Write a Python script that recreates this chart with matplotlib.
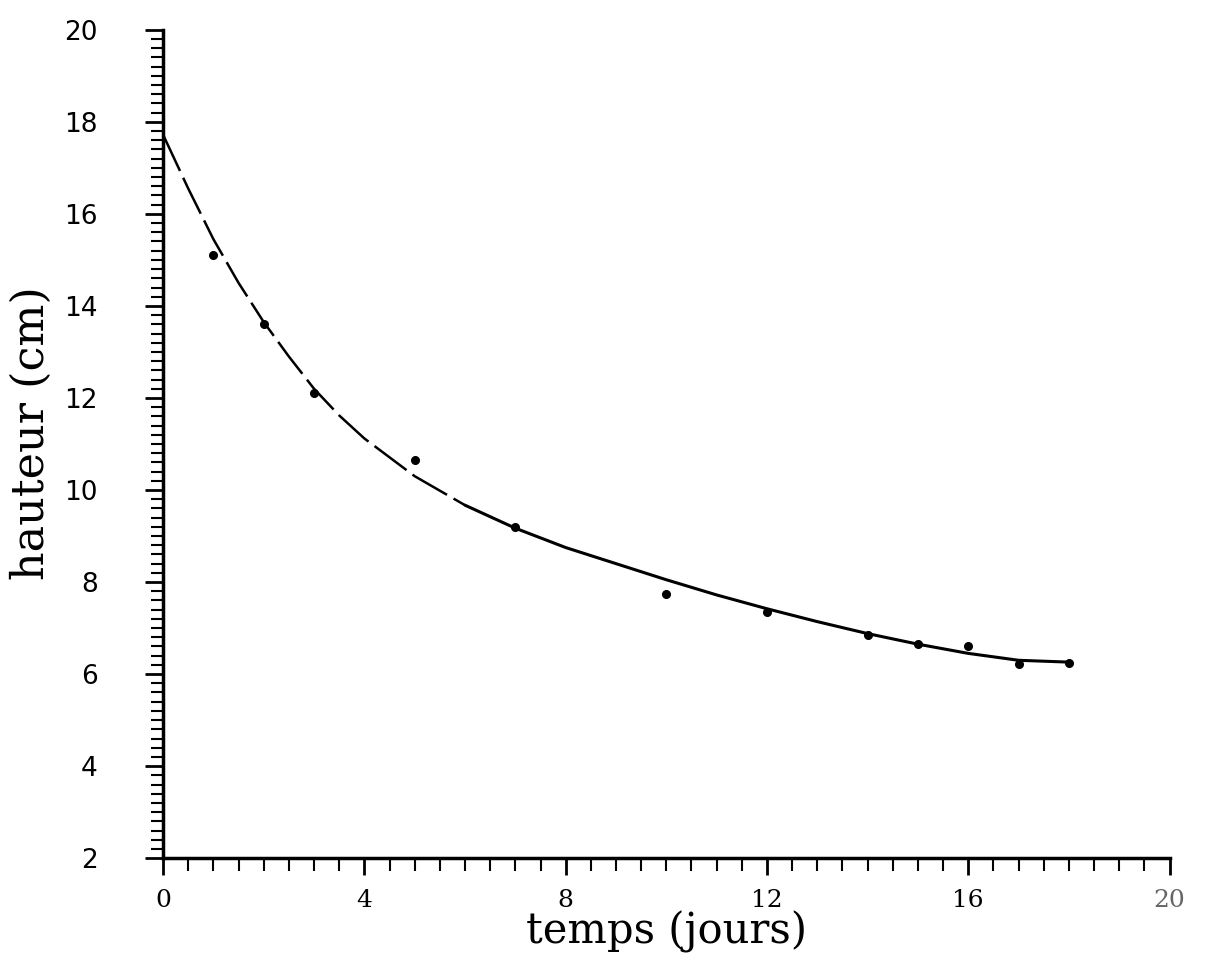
import matplotlib
matplotlib.use("Agg")
import matplotlib.pyplot as plt
from matplotlib.ticker import MultipleLocator

# measured points (temps en jours, hauteur en cm)
jours = [1, 2, 3, 5, 7, 10, 12, 14, 15, 16, 17, 18]
hauteur = [15.1, 13.6, 12.1, 10.65, 9.2, 7.75, 7.35, 6.85, 6.65, 6.6, 6.22, 6.25]

# fitted curve
courbe_x = [0, 0.5, 1, 1.5, 2, 2.5, 3, 3.5, 4, 5, 6,
            7, 8, 9, 10, 11, 12, 13, 14, 15, 16, 17, 18]
courbe_y = [17.72, 16.55, 15.45, 14.5, 13.65, 12.9, 12.2, 11.62, 11.12, 10.3, 9.67,
            9.17, 8.75, 8.4, 8.05, 7.72, 7.42, 7.14, 6.88, 6.65, 6.45, 6.3, 6.26]

x_ticks = [0, 4, 8, 12, 16, 20]
y_ticks = [2, 4, 6, 8, 10, 12, 14, 16, 18, 20]

fig = plt.figure(figsize=(12.17, 9.61), dpi=100)
ax = fig.add_axes([0.134, 0.107, 0.827, 0.862])

# upper part of the curve is broken (dashed), rest is solid
n_dash = 11
ax.plot(courbe_x[:n_dash], courbe_y[:n_dash], color="black", lw=1.8,
        linestyle=(0, (16, 3)))
ax.plot(courbe_x[n_dash - 1:], courbe_y[n_dash - 1:], color="black", lw=2.2,
        solid_capstyle="round", solid_joinstyle="round")
ax.plot(jours, hauteur, "o", color="black", markersize=5.5)

ax.set_xlim(0, 20)
ax.set_ylim(2, 20)
ax.spines["top"].set_visible(False)
ax.spines["right"].set_visible(False)
ax.spines["left"].set_linewidth(2.5)
ax.spines["bottom"].set_linewidth(2.5)

ax.xaxis.set_minor_locator(MultipleLocator(0.5))
ax.yaxis.set_minor_locator(MultipleLocator(0.2))
ax.tick_params(axis="y", which="major", direction="out", length=13, width=2, pad=34)
ax.tick_params(axis="y", which="minor", direction="out", length=9, width=1.5)
ax.tick_params(axis="x", which="major", direction="out", length=12, width=2, pad=10)
ax.tick_params(axis="x", which="minor", direction="out", length=9, width=1.5)

ax.set_xticks(x_ticks)
ax.set_xticklabels([str(v) for v in x_ticks], family="DejaVu Serif", fontsize=18)
ax.get_xticklabels()[-1].set_color("#666666")
ax.set_yticks(y_ticks)
ax.set_yticklabels([str(v) for v in y_ticks], family="DejaVu Sans", fontsize=19)

ax.set_xlabel("temps (jours)", family="DejaVu Serif", fontsize=30, labelpad=-1)
ax.set_ylabel("hauteur (cm)", family="DejaVu Serif", fontsize=32, labelpad=8, y=0.513)

fig.savefig("out.png", dpi=100)
